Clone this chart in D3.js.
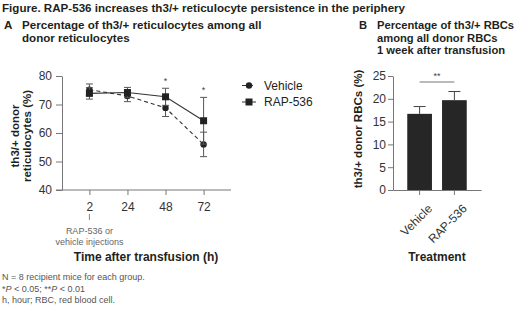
<!DOCTYPE html>
<html>
<head>
<meta charset="utf-8">
<script src="https://cdn.jsdelivr.net/npm/d3@7"></script>
<style>
  body { margin: 0; background: #fff; }
  svg { font-family: "Liberation Sans", Arial, sans-serif; }
  .axis path, .axis line { stroke: #777; }
  .axis text { font-size: 12px; fill: #333; }
</style>
</head>
<body>
<svg id="fig" width="520" height="314"></svg>
<script>
// panel A data (mean +/- error, %)
var timepoints = ["2", "24", "48", "72"];
var vehicleMean = [75.2, 73.0, 68.8, 56.0];
var vehicleErr = [2.0, 2.0, 3.0, 4.3];
var rapMean = [73.9, 74.2, 72.7, 64.3];
var rapErr = [2.0, 1.8, 3.0, 8.2];
var sigA = ["", "", "*", "*"];
var yTicksA = [40, 50, 60, 70, 80];

// panel B data
var treatments = ["Vehicle", "RAP-536"];
var rbcMean = [16.7, 19.7];
var rbcErr = [1.6, 1.9];
var yTicksB = [0, 5, 10, 15, 20, 25];

var svg = d3.select("#fig");
var ink = "#231f20";

// headings
svg.append("text").attr("x", 2).attr("y", 12)
    .style("font-size", "11.6px").style("font-weight", "bold").attr("fill", ink)
    .text("Figure. RAP-536 increases th3/+ reticulocyte persistence in the periphery");

function heading(x, letter, lines, size) {
    svg.append("text").attr("x", x).attr("y", 29)
        .style("font-size", size).style("font-weight", "bold").attr("fill", ink)
        .text(letter);
    lines.forEach(function(l, i) {
        svg.append("text").attr("x", x + 18).attr("y", 29 + i * 12.5)
            .style("font-size", size).style("font-weight", "bold").attr("fill", ink)
            .text(l);
    });
}
heading(4, "A", ["Percentage of th3/+ reticulocytes among all", "donor reticulocytes"], "11.6px");
heading(359, "B", ["Percentage of th3/+ RBCs", "among all donor RBCs", "1 week after transfusion"], "11.2px");

// ---------- panel A ----------
var yA = d3.scaleLinear().domain([40, 80]).range([190, 76]);
var xA = d3.scalePoint().domain(timepoints).range([62, 231]).padding(0.72);

svg.append("g").attr("class", "axis")
    .attr("transform", "translate(62,0)")
    .call(d3.axisLeft(yA).tickValues(yTicksA).tickSize(6).tickPadding(4).tickSizeOuter(0));
svg.append("g").attr("class", "axis")
    .attr("transform", "translate(0,190)")
    .call(d3.axisBottom(xA).tickSize(5).tickPadding(7).tickSizeOuter(0))
    .select(".domain").attr("d", "M56,0H231");

function series(means, errs, dash, shape) {
    var g = svg.append("g");
    var line = d3.line().x(function(d, i) { return xA(timepoints[i]); }).y(function(d) { return yA(d); });
    g.append("path").datum(means).attr("d", line)
        .attr("fill", "none").attr("stroke", "#333").attr("stroke-width", 1.1)
        .attr("stroke-dasharray", dash);
    means.forEach(function(m, i) {
        var x = xA(timepoints[i]);
        var y0 = yA(m - errs[i]), y1 = yA(m + errs[i]);
        g.append("line").attr("x1", x).attr("x2", x).attr("y1", y0).attr("y2", y1)
            .attr("stroke", "#555").attr("stroke-width", 1);
        [y0, y1].forEach(function(yy) {
            g.append("line").attr("x1", x - 3.5).attr("x2", x + 3.5).attr("y1", yy).attr("y2", yy)
                .attr("stroke", "#555").attr("stroke-width", 1);
        });
        if (shape === "circle") {
            g.append("circle").attr("cx", x).attr("cy", yA(m)).attr("r", 3.2).attr("fill", "#222");
        } else {
            g.append("rect").attr("x", x - 3.5).attr("y", yA(m) - 3.5)
                .attr("width", 7).attr("height", 7).attr("fill", "#222");
        }
    });
}
series(vehicleMean, vehicleErr, "4,3", "circle");
series(rapMean, rapErr, null, "square");

// significance stars
sigA.forEach(function(s, i) {
    if (!s) return;
    var top = Math.max(vehicleMean[i] + vehicleErr[i], rapMean[i] + rapErr[i]);
    svg.append("text").attr("x", xA(timepoints[i])).attr("y", yA(top) - 4)
        .attr("text-anchor", "middle").style("font-size", "9px").attr("fill", "#444")
        .text(s);
});

// legend
var legend = [["Vehicle", "4,3", "circle"], ["RAP-536", null, "square"]];
legend.forEach(function(d, i) {
    var y = 85.5 + i * 16.5;
    svg.append("line").attr("x1", 242).attr("x2", 256).attr("y1", y).attr("y2", y)
        .attr("stroke", "#333").attr("stroke-dasharray", d[1]);
    if (d[2] === "circle") {
        svg.append("circle").attr("cx", 249).attr("cy", y).attr("r", 3.2).attr("fill", "#222");
    } else {
        svg.append("rect").attr("x", 245.5).attr("y", y - 3.5).attr("width", 7).attr("height", 7).attr("fill", "#222");
    }
    svg.append("text").attr("x", 264).attr("y", y + 4.3)
        .style("font-size", "12px").attr("fill", ink).text(d[0]);
});

// y title A
var ytA = svg.append("text").attr("transform", "translate(19,136) rotate(-90)")
    .attr("text-anchor", "middle").style("font-size", "11.5px").style("font-weight", "bold").attr("fill", ink);
ytA.append("tspan").attr("x", 0).attr("y", 0).text("th3/+ donor");
ytA.append("tspan").attr("x", 0).attr("y", 11.5).text("reticulocytes (%)");

// injection annotation
svg.append("line").attr("x1", xA("2")).attr("x2", xA("2")).attr("y1", 214).attr("y2", 220)
    .attr("stroke", "#888");
["RAP-536 or", "vehicle injections"].forEach(function(t, i) {
    svg.append("text").attr("x", xA("2")).attr("y", 234 + i * 10.5)
        .attr("text-anchor", "middle").style("font-size", "9px").attr("fill", "#666").text(t);
});
svg.append("text").attr("x", 146).attr("y", 261)
    .attr("text-anchor", "middle").style("font-size", "12px").style("font-weight", "bold").attr("fill", ink)
    .text("Time after transfusion (h)");

// ---------- panel B ----------
var yB = d3.scaleLinear().domain([0, 25]).range([190, 76]);
var xB = d3.scaleBand().domain(treatments).range([393, 481]).paddingInner(0.29).paddingOuter(0.41);

svg.append("g").attr("class", "axis")
    .attr("transform", "translate(393,0)")
    .call(d3.axisLeft(yB).tickValues(yTicksB).tickSize(5).tickPadding(2).tickSizeOuter(0));
var xAxB = svg.append("g").attr("class", "axis")
    .attr("transform", "translate(0,190)")
    .call(d3.axisBottom(xB).tickSize(5).tickPadding(4).tickSizeOuter(0));
xAxB.selectAll(".tick text")
    .attr("text-anchor", "end").attr("dy", "0.35em")
    .attr("transform", "translate(4,10) rotate(-45)");

var bars = svg.append("g");
bars.selectAll("rect").data(rbcMean).enter().append("rect")
    .attr("x", function(d, i) { return xB(treatments[i]); })
    .attr("width", xB.bandwidth())
    .attr("y", function(d) { return yB(d); })
    .attr("height", function(d) { return yB(0) - yB(d); })
    .attr("fill", "#262626");
rbcMean.forEach(function(m, i) {
    var cx = xB(treatments[i]) + xB.bandwidth() / 2;
    svg.append("line").attr("x1", cx).attr("x2", cx).attr("y1", yB(m)).attr("y2", yB(m + rbcErr[i]))
        .attr("stroke", "#444");
    svg.append("line").attr("x1", cx - 6).attr("x2", cx + 6).attr("y1", yB(m + rbcErr[i])).attr("y2", yB(m + rbcErr[i]))
        .attr("stroke", "#444");
});
var cV = xB("Vehicle") + xB.bandwidth() / 2, cR = xB("RAP-536") + xB.bandwidth() / 2;
svg.append("line").attr("x1", cV).attr("x2", cR).attr("y1", 82).attr("y2", 82).attr("stroke", "#777");
svg.append("text").attr("x", (cV + cR) / 2).attr("y", 79)
    .attr("text-anchor", "middle").style("font-size", "9px").attr("fill", "#444").text("**");

svg.append("text").attr("transform", "translate(362,129) rotate(-90)")
    .attr("text-anchor", "middle").style("font-size", "11.5px").style("font-weight", "bold").attr("fill", ink)
    .text("th3/+ donor RBCs (%)");
svg.append("text").attr("x", 437).attr("y", 261)
    .attr("text-anchor", "middle").style("font-size", "12px").style("font-weight", "bold").attr("fill", ink)
    .text("Treatment");

// footnotes
var notes = svg.append("g").style("font-size", "9px").attr("fill", "#555");
notes.append("text").attr("x", 2).attr("y", 280).text("N = 8 recipient mice for each group.");
var n2 = notes.append("text").attr("x", 2).attr("y", 292);
n2.append("tspan").text("*");
n2.append("tspan").style("font-style", "italic").text("P");
n2.append("tspan").text(" < 0.05; **");
n2.append("tspan").style("font-style", "italic").text("P");
n2.append("tspan").text(" < 0.01");
notes.append("text").attr("x", 2).attr("y", 303).text("h, hour; RBC, red blood cell.");
</script>
</body>
</html>
